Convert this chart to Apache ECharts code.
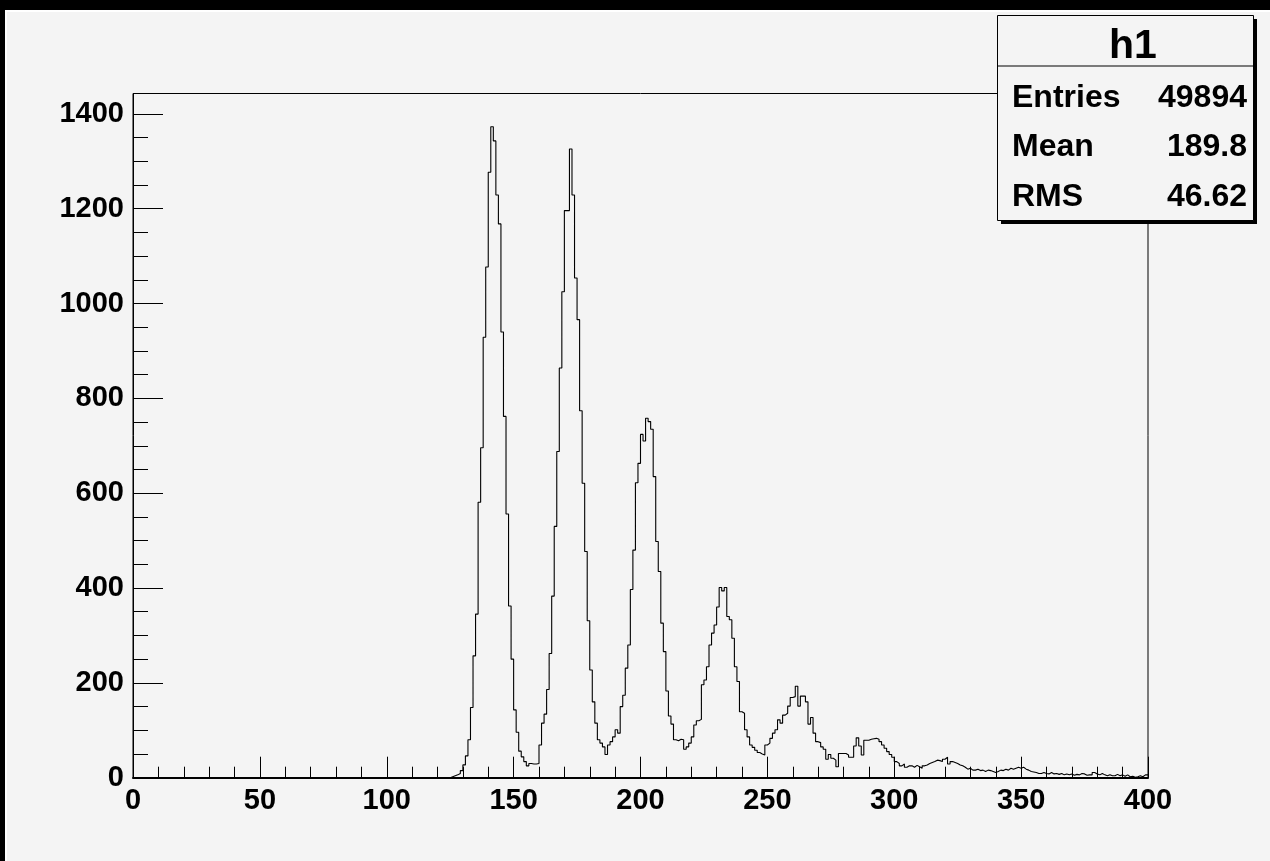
<!DOCTYPE html>
<html>
<head>
<meta charset="utf-8">
<script src="https://cdn.jsdelivr.net/npm/echarts@6/dist/echarts.min.js"></script>
<style>
html,body{margin:0;padding:0;background:#f4f4f4;}
#chart{width:1270px;height:861px;}
</style>
</head>
<body>
<div id="chart"></div>
<script>
// Histogram h1: 400 bins of width 1 from 0 to 400; bins below firstBin are empty
const xMin = 0;
const xMax = 400;
const binWidth = 1;
const firstBin = 125;
const counts = [
  2, 4, 6, 9, 15, 27, 46, 80, 148, 257,            // 125-134
  345, 581, 696, 929, 1077, 1277, 1373, 1343, 1229, 1168, // 135-144
  940, 762, 556, 362, 250, 143, 96, 56, 44, 34,     // 145-154
  25, 30, 29, 29, 30, 69, 115, 134, 186, 262,       // 155-164
  383, 530, 688, 864, 1025, 1196, 1196, 1326, 1229, 1054, // 165-174
  966, 774, 621, 477, 331, 227, 160, 115, 80, 73,   // 175-184
  65, 49, 69, 76, 86, 101, 94, 150, 174, 231,       // 185-194
  280, 397, 480, 622, 663, 724, 710, 758, 751, 735, // 195-204
  635, 498, 435, 326, 266, 183, 130, 113, 80, 78,   // 205-214
  81, 80, 60, 65, 73, 86, 111, 120, 123, 196,       // 215-224
  206, 234, 280, 305, 322, 360, 401, 394, 401, 340, // 225-234
  333, 294, 234, 203, 139, 136, 101, 86, 69, 64,    // 235-244
  58, 53, 50, 48, 69, 73, 83, 94, 101, 122,         // 245-254
  115, 132, 136, 151, 169, 171, 193, 151, 172, 172, // 255-264
  160, 113, 127, 94, 76, 74, 65, 60, 39, 49,        // 265-274
  41, 37, 23, 51, 51, 51, 48, 43, 43, 67,           // 275-284
  84, 67, 48, 79, 79, 81, 82, 83, 81, 76,           // 285-294
  69, 62, 55, 49, 43, 34, 30, 25, 29, 22,           // 295-304
  25, 25, 22, 26, 23, 20, 25, 27, 30, 32,           // 305-314
  34, 37, 36, 34, 39, 43, 29, 34, 32, 30,           // 315-324
  27, 25, 22, 18, 20, 16, 16, 18, 15, 16,           // 325-334
  13, 16, 15, 13, 11, 13, 16, 15, 18, 16,           // 335-344
  20, 18, 20, 22, 20, 22, 18, 16, 13, 12,           // 345-354
  11, 9, 9, 11, 9, 8, 11, 8, 9, 7,                  // 355-364
  9, 6, 8, 6, 8, 5, 7, 6, 9, 8,                     // 365-374
  5, 6, 6, 11, 8, 6, 9, 6, 4, 6,                    // 375-384
  4, 4, 7, 4, 6, 3, 6, 2, 3, 1,                     // 385-394
  2, 4, 2, 6, 6                                     // 395-399
];
const yMax = 1443;
const xTickLabels = [0, 50, 100, 150, 200, 250, 300, 350, 400];
const yTickLabels = [0, 200, 400, 600, 800, 1000, 1200, 1400];
const yMinorTicks = [50, 100, 150, 250, 300, 350, 450, 500, 550, 650, 700, 750, 850, 900, 950, 1050, 1100, 1150, 1250, 1300, 1350];
const statsTitle = 'h1';
const statsNames = ['Entries', 'Mean', 'RMS'];
const statsValues = ['49894', '189.8', '46.62'];

// step line points at bin low edges, closing at the last bin's high edge
const histPoints = [[xMin, 0]];
counts.forEach((c, i) => histPoints.push([xMin + (firstBin + i) * binWidth, c]));
histPoints.push([xMax, counts[counts.length - 1]]);

const FONT = '"Liberation Sans", Arial, Helvetica, sans-serif';
const BG = '#f4f4f4';
const plain = v => String(v);

const chart = echarts.init(document.getElementById('chart'), null, {renderer: 'canvas'});

const statsTexts = [];
const rowY = [98, 147, 197];
statsNames.forEach((n, i) => {
  statsTexts.push({type: 'text', z: 102, style: {text: n, x: 1012, y: rowY[i], font: 'bold 32px ' + FONT, fill: '#000', align: 'left', verticalAlign: 'middle'}});
  statsTexts.push({type: 'text', z: 102, style: {text: statsValues[i], x: 1247, y: rowY[i], font: 'bold 32px ' + FONT, fill: '#000', align: 'right', verticalAlign: 'middle'}});
});

chart.setOption({
  backgroundColor: BG,
  animation: false,
  grid: {
    left: 133, right: 122, top: 93.5, bottom: 83.3,
    show: true, borderColor: '#000', borderWidth: 1, backgroundColor: 'transparent',
    containLabel: false, outerBoundsMode: 'none'
  },
  xAxis: {
    type: 'value', min: xMin, max: xMax, interval: 50,
    axisLine: {show: true, onZero: false, lineStyle: {color: '#000', width: 2}},
    axisTick: {show: true, inside: true, length: 21, lineStyle: {color: '#000', width: 1}},
    minorTick: {show: true, splitNumber: 5, length: 11, lineStyle: {color: '#000', width: 1}},
    axisLabel: {show: true, margin: 9, color: '#000', fontFamily: FONT, fontWeight: 'bold', fontSize: 29,
      customValues: xTickLabels, formatter: plain},
    splitLine: {show: false}, minorSplitLine: {show: false}
  },
  yAxis: [{
    type: 'value', min: 0, max: yMax,
    axisLine: {show: true, onZero: false, lineStyle: {color: '#000', width: 1}},
    axisTick: {show: true, inside: true, length: 30, lineStyle: {color: '#000', width: 1}, customValues: yTickLabels},
    axisLabel: {show: true, margin: 9, color: '#000', fontFamily: FONT, fontWeight: 'bold', fontSize: 29,
      customValues: yTickLabels, formatter: plain},
    splitLine: {show: false}
  }, {
    type: 'value', min: 0, max: yMax, position: 'left',
    axisLine: {show: false},
    axisTick: {show: true, inside: true, length: 15, lineStyle: {color: '#000', width: 1}, customValues: yMinorTicks},
    axisLabel: {show: false},
    splitLine: {show: false}
  }],
  series: [{
    type: 'line', step: 'end', data: histPoints, symbol: 'none', showSymbol: false,
    lineStyle: {color: '#000', width: 1.1}, clip: false, silent: true, z: 3
  }],
  graphic: [
    {type: 'rect', z: 100, shape: {x: 0, y: 0, width: 1270, height: 10}, style: {fill: '#000'}},
    {type: 'rect', z: 100, shape: {x: 0, y: 0, width: 5, height: 861}, style: {fill: '#000'}},
    {type: 'line', z: 100, shape: {x1: 5, y1: 11, x2: 1270, y2: 11}, style: {stroke: '#ffffff', lineWidth: 2}},
    {type: 'line', z: 100, shape: {x1: 6, y1: 10, x2: 6, y2: 861}, style: {stroke: '#ffffff', lineWidth: 2}},
    {type: 'rect', z: 101, shape: {x: 1001, y: 19, width: 256, height: 205}, style: {fill: '#000'}},
    {type: 'rect', z: 101, shape: {x: 997.5, y: 15.5, width: 256, height: 205}, style: {fill: BG, stroke: '#000', lineWidth: 1}},
    {type: 'line', z: 102, shape: {x1: 997.5, y1: 66, x2: 1253.5, y2: 66}, style: {stroke: '#000', lineWidth: 1}},
    {type: 'text', z: 102, style: {text: statsTitle, x: 1133, y: 47, font: 'bold 41px ' + FONT, fill: '#000', align: 'center', verticalAlign: 'middle'}}
  ].concat(statsTexts)
});
</script>
</body>
</html>
